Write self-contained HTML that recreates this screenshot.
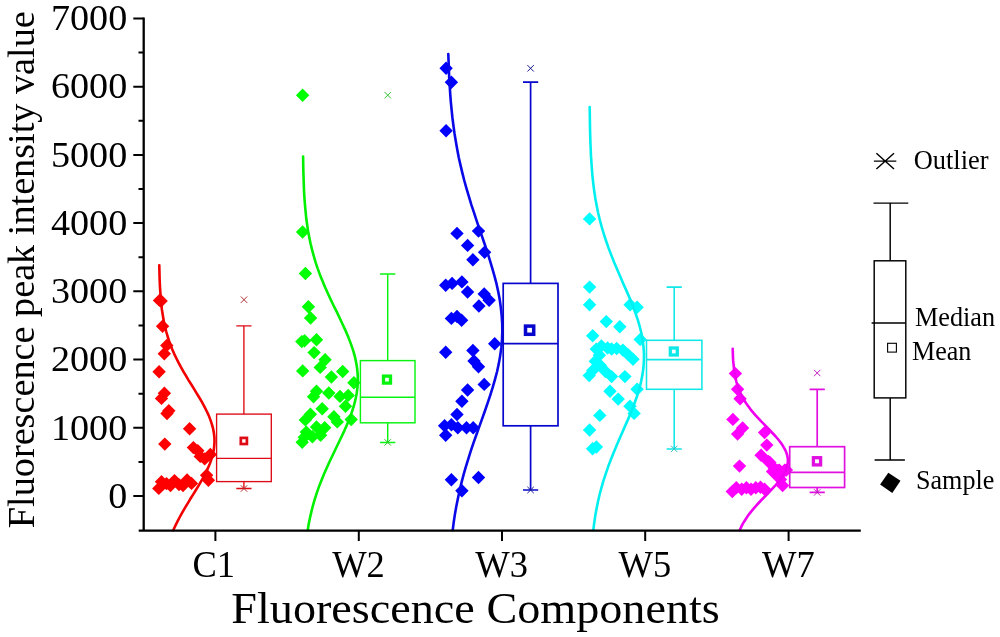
<!DOCTYPE html>
<html lang="en"><head><meta charset="utf-8"><title>Fluorescence Components</title>
<style>html,body{margin:0;padding:0;background:#fff}body{width:1000px;height:637px;overflow:hidden}svg{display:block;will-change:transform}text{font-family:"Liberation Serif","Times New Roman",serif;fill:#000}</style>
</head><body>
<svg width="1000" height="637" viewBox="0 0 1000 637">
<rect width="1000" height="637" fill="#fff"/>
<g id="C1">
<path d="M159.5 293.7l6.7 6.7l-6.7 6.7l-6.7 -6.7zM161.1 294.3l6.7 6.7l-6.7 6.7l-6.7 -6.7zM162.6 319.6l6.7 6.7l-6.7 6.7l-6.7 -6.7zM166.8 338.7l6.7 6.7l-6.7 6.7l-6.7 -6.7zM164.3 347.1l6.7 6.7l-6.7 6.7l-6.7 -6.7zM159.1 365.1l6.7 6.7l-6.7 6.7l-6.7 -6.7zM164.4 386.6l6.7 6.7l-6.7 6.7l-6.7 -6.7zM161.5 391.7l6.7 6.7l-6.7 6.7l-6.7 -6.7zM168.8 404.0l6.7 6.7l-6.7 6.7l-6.7 -6.7zM167.0 406.8l6.7 6.7l-6.7 6.7l-6.7 -6.7zM189.6 422.1l6.7 6.7l-6.7 6.7l-6.7 -6.7zM164.8 437.4l6.7 6.7l-6.7 6.7l-6.7 -6.7zM193.4 440.9l6.7 6.7l-6.7 6.7l-6.7 -6.7zM197.8 444.1l6.7 6.7l-6.7 6.7l-6.7 -6.7zM200.3 449.7l6.7 6.7l-6.7 6.7l-6.7 -6.7zM204.7 452.2l6.7 6.7l-6.7 6.7l-6.7 -6.7zM210.3 447.8l6.7 6.7l-6.7 6.7l-6.7 -6.7zM206.6 468.6l6.7 6.7l-6.7 6.7l-6.7 -6.7zM208.4 473.6l6.7 6.7l-6.7 6.7l-6.7 -6.7zM158.8 481.7l6.7 6.7l-6.7 6.7l-6.7 -6.7zM161.5 475.1l6.7 6.7l-6.7 6.7l-6.7 -6.7zM166.5 476.9l6.7 6.7l-6.7 6.7l-6.7 -6.7zM170.5 478.8l6.7 6.7l-6.7 6.7l-6.7 -6.7zM174.5 473.9l6.7 6.7l-6.7 6.7l-6.7 -6.7zM179.0 477.9l6.7 6.7l-6.7 6.7l-6.7 -6.7zM183.0 478.9l6.7 6.7l-6.7 6.7l-6.7 -6.7zM187.1 473.3l6.7 6.7l-6.7 6.7l-6.7 -6.7zM191.5 476.7l6.7 6.7l-6.7 6.7l-6.7 -6.7z" fill="#ff0000"/>
<path d="M159.3 265.3 L159.4 269.7 L159.5 274.1 L159.6 278.5 L159.8 283.0 L160.0 287.4 L160.3 291.8 L160.6 296.2 L160.9 300.6 L161.4 305.0 L161.9 309.5 L162.6 313.9 L163.3 318.3 L164.1 322.7 L165.1 327.1 L166.2 331.5 L167.5 336.0 L168.9 340.4 L170.5 344.8 L172.2 349.2 L174.1 353.6 L176.2 358.0 L178.4 362.4 L180.8 366.9 L183.3 371.3 L185.9 375.7 L188.5 380.1 L191.3 384.5 L194.0 388.9 L196.7 393.4 L199.4 397.8 L202.0 402.2 L204.4 406.6 L206.6 411.0 L208.7 415.4 L210.4 419.9 L211.9 424.3 L213.1 428.7 L213.9 433.1 L214.4 437.5 L214.5 441.9 L214.2 446.3 L213.6 450.8 L212.6 455.2 L211.3 459.6 L209.7 464.0 L207.8 468.4 L205.7 472.8 L203.4 477.3 L200.9 481.7 L198.3 486.1 L195.6 490.5 L192.9 494.9 L190.1 499.3 L187.4 503.8 L184.8 508.2 L182.2 512.6 L179.8 517.0 L177.5 521.4 L175.3 525.8 L173.3 530.2" fill="none" stroke="#f20000" stroke-width="2.6" stroke-linejoin="round" stroke-linecap="round"/>
<g fill="none" stroke="#de0a14" stroke-width="1.35">
<rect x="216.6" y="414.1" width="54.7" height="67.5"/>
<path d="M216.6 458.4H271.3M243.9 414.1V325.9M236.3 325.9h15.2M243.9 481.6V488.5M236.3 488.5h15.2"/>
<rect x="240.8" y="437.9" width="6.1" height="6.1" stroke-width="2.7"/>
</g>
<path d="M240.8 296.5l6.4 6.4M240.8 302.9l6.4 -6.4M240.8 485.3l6.4 6.4M240.8 491.7l6.4 -6.4" fill="none" stroke="#b03030" stroke-width="1"/>
</g>
<g id="W2">
<path d="M302.6 88.5l6.7 6.7l-6.7 6.7l-6.7 -6.7zM302.6 225.3l6.7 6.7l-6.7 6.7l-6.7 -6.7zM305.4 266.8l6.7 6.7l-6.7 6.7l-6.7 -6.7zM308.4 300.0l6.7 6.7l-6.7 6.7l-6.7 -6.7zM310.6 311.3l6.7 6.7l-6.7 6.7l-6.7 -6.7zM301.8 334.9l6.7 6.7l-6.7 6.7l-6.7 -6.7zM304.6 334.1l6.7 6.7l-6.7 6.7l-6.7 -6.7zM316.5 333.0l6.7 6.7l-6.7 6.7l-6.7 -6.7zM314.1 345.9l6.7 6.7l-6.7 6.7l-6.7 -6.7zM325.1 353.0l6.7 6.7l-6.7 6.7l-6.7 -6.7zM320.2 360.7l6.7 6.7l-6.7 6.7l-6.7 -6.7zM302.7 364.2l6.7 6.7l-6.7 6.7l-6.7 -6.7zM342.7 364.8l6.7 6.7l-6.7 6.7l-6.7 -6.7zM331.4 370.3l6.7 6.7l-6.7 6.7l-6.7 -6.7zM353.9 376.1l6.7 6.7l-6.7 6.7l-6.7 -6.7zM316.5 384.6l6.7 6.7l-6.7 6.7l-6.7 -6.7zM328.8 386.3l6.7 6.7l-6.7 6.7l-6.7 -6.7zM313.5 390.1l6.7 6.7l-6.7 6.7l-6.7 -6.7zM340.0 389.7l6.7 6.7l-6.7 6.7l-6.7 -6.7zM348.2 388.7l6.7 6.7l-6.7 6.7l-6.7 -6.7zM345.5 399.5l6.7 6.7l-6.7 6.7l-6.7 -6.7zM322.2 402.0l6.7 6.7l-6.7 6.7l-6.7 -6.7zM310.4 407.5l6.7 6.7l-6.7 6.7l-6.7 -6.7zM333.9 410.1l6.7 6.7l-6.7 6.7l-6.7 -6.7zM305.3 413.2l6.7 6.7l-6.7 6.7l-6.7 -6.7zM351.2 412.8l6.7 6.7l-6.7 6.7l-6.7 -6.7zM337.3 415.2l6.7 6.7l-6.7 6.7l-6.7 -6.7zM316.5 420.3l6.7 6.7l-6.7 6.7l-6.7 -6.7zM324.7 421.0l6.7 6.7l-6.7 6.7l-6.7 -6.7zM306.3 425.4l6.7 6.7l-6.7 6.7l-6.7 -6.7zM320.6 428.5l6.7 6.7l-6.7 6.7l-6.7 -6.7zM312.4 430.1l6.7 6.7l-6.7 6.7l-6.7 -6.7zM304.3 430.5l6.7 6.7l-6.7 6.7l-6.7 -6.7zM302.2 435.6l6.7 6.7l-6.7 6.7l-6.7 -6.7z" fill="#00ff00"/>
<path d="M303.1 156.5 L303.2 162.7 L303.3 169.0 L303.5 175.2 L303.7 181.4 L303.9 187.6 L304.2 193.9 L304.6 200.1 L305.1 206.3 L305.7 212.6 L306.3 218.8 L307.2 225.0 L308.1 231.2 L309.3 237.5 L310.6 243.7 L312.1 249.9 L313.8 256.2 L315.6 262.4 L317.7 268.6 L320.0 274.9 L322.5 281.1 L325.1 287.3 L327.9 293.5 L330.8 299.8 L333.8 306.0 L336.9 312.2 L339.9 318.5 L342.8 324.7 L345.7 330.9 L348.3 337.1 L350.7 343.4 L352.9 349.6 L354.7 355.8 L356.1 362.1 L357.1 368.3 L357.7 374.5 L357.8 380.7 L357.5 387.0 L356.7 393.2 L355.5 399.4 L353.9 405.7 L351.9 411.9 L349.7 418.1 L347.1 424.4 L344.4 430.6 L341.5 436.8 L338.5 443.0 L335.5 449.3 L332.5 455.5 L329.5 461.7 L326.7 468.0 L323.9 474.2 L321.4 480.4 L319.0 486.6 L316.8 492.9 L314.8 499.1 L313.0 505.3 L311.4 511.6 L310.0 517.8 L308.7 524.0 L307.7 530.2" fill="none" stroke="#00f000" stroke-width="2.6" stroke-linejoin="round" stroke-linecap="round"/>
<g fill="none" stroke="#08f410" stroke-width="1.45">
<rect x="360.4" y="360.6" width="54.6" height="62.2"/>
<path d="M360.4 397.2H415.0M387.7 360.6V273.9M380.1 273.9h15.2M387.7 422.8V442.4M380.1 442.4h15.2"/>
<rect x="383.5" y="376.1" width="7.0" height="7.0" stroke-width="3.3"/>
</g>
<path d="M384.5 92.0l6.4 6.4M384.5 98.4l6.4 -6.4M384.5 439.2l6.4 6.4M384.5 445.6l6.4 -6.4" fill="none" stroke="#30c030" stroke-width="1"/>
</g>
<g id="W3">
<path d="M446.1 61.6l6.7 6.7l-6.7 6.7l-6.7 -6.7zM451.4 75.5l6.7 6.7l-6.7 6.7l-6.7 -6.7zM446.1 124.1l6.7 6.7l-6.7 6.7l-6.7 -6.7zM478.5 224.4l6.7 6.7l-6.7 6.7l-6.7 -6.7zM457.0 226.7l6.7 6.7l-6.7 6.7l-6.7 -6.7zM467.6 238.7l6.7 6.7l-6.7 6.7l-6.7 -6.7zM484.6 245.5l6.7 6.7l-6.7 6.7l-6.7 -6.7zM472.9 253.1l6.7 6.7l-6.7 6.7l-6.7 -6.7zM445.7 278.6l6.7 6.7l-6.7 6.7l-6.7 -6.7zM452.1 276.7l6.7 6.7l-6.7 6.7l-6.7 -6.7zM461.9 275.2l6.7 6.7l-6.7 6.7l-6.7 -6.7zM467.6 285.3l6.7 6.7l-6.7 6.7l-6.7 -6.7zM484.2 287.2l6.7 6.7l-6.7 6.7l-6.7 -6.7zM489.1 293.6l6.7 6.7l-6.7 6.7l-6.7 -6.7zM478.9 299.3l6.7 6.7l-6.7 6.7l-6.7 -6.7zM451.4 311.7l6.7 6.7l-6.7 6.7l-6.7 -6.7zM457.0 309.8l6.7 6.7l-6.7 6.7l-6.7 -6.7zM461.6 313.6l6.7 6.7l-6.7 6.7l-6.7 -6.7zM494.7 337.0l6.7 6.7l-6.7 6.7l-6.7 -6.7zM445.7 345.6l6.7 6.7l-6.7 6.7l-6.7 -6.7zM472.9 343.8l6.7 6.7l-6.7 6.7l-6.7 -6.7zM474.0 354.3l6.7 6.7l-6.7 6.7l-6.7 -6.7zM478.5 360.0l6.7 6.7l-6.7 6.7l-6.7 -6.7zM484.2 377.7l6.7 6.7l-6.7 6.7l-6.7 -6.7zM467.6 383.3l6.7 6.7l-6.7 6.7l-6.7 -6.7zM461.9 394.6l6.7 6.7l-6.7 6.7l-6.7 -6.7zM457.0 407.8l6.7 6.7l-6.7 6.7l-6.7 -6.7zM444.6 419.1l6.7 6.7l-6.7 6.7l-6.7 -6.7zM451.4 418.0l6.7 6.7l-6.7 6.7l-6.7 -6.7zM457.8 421.0l6.7 6.7l-6.7 6.7l-6.7 -6.7zM466.5 421.0l6.7 6.7l-6.7 6.7l-6.7 -6.7zM473.2 421.0l6.7 6.7l-6.7 6.7l-6.7 -6.7zM445.7 428.6l6.7 6.7l-6.7 6.7l-6.7 -6.7zM451.4 473.0l6.7 6.7l-6.7 6.7l-6.7 -6.7zM478.5 470.8l6.7 6.7l-6.7 6.7l-6.7 -6.7zM461.9 484.0l6.7 6.7l-6.7 6.7l-6.7 -6.7z" fill="#0000ff"/>
<path d="M448.3 54.0 L448.6 61.9 L448.9 69.9 L449.2 77.8 L449.7 85.7 L450.2 93.7 L450.8 101.6 L451.6 109.6 L452.4 117.5 L453.4 125.4 L454.5 133.4 L455.8 141.3 L457.2 149.2 L458.7 157.2 L460.5 165.1 L462.4 173.1 L464.4 181.0 L466.6 188.9 L469.0 196.9 L471.4 204.8 L474.0 212.7 L476.6 220.7 L479.3 228.6 L482.1 236.6 L484.8 244.5 L487.4 252.4 L489.9 260.4 L492.3 268.3 L494.5 276.2 L496.6 284.2 L498.3 292.1 L499.8 300.1 L500.9 308.0 L501.7 315.9 L502.2 323.9 L502.3 331.8 L502.0 339.7 L501.3 347.7 L500.2 355.6 L498.8 363.6 L497.1 371.5 L495.0 379.4 L492.7 387.4 L490.2 395.3 L487.6 403.2 L484.8 411.2 L482.0 419.1 L479.1 427.1 L476.3 435.0 L473.5 442.9 L470.8 450.9 L468.3 458.8 L465.9 466.7 L463.6 474.7 L461.5 482.6 L459.6 490.6 L457.9 498.5 L456.3 506.4 L454.9 514.4 L453.7 522.3 L452.7 530.2" fill="none" stroke="#0808e8" stroke-width="2.6" stroke-linejoin="round" stroke-linecap="round"/>
<g fill="none" stroke="#0606cc" stroke-width="1.7">
<rect x="503.2" y="283.4" width="54.8" height="142.4"/>
<path d="M503.2 343.7H558.0M530.6 283.4V82.2M523.0 82.2h15.2M530.6 425.8V490.0M523.0 490.0h15.2"/>
<rect x="525.5" y="326.1" width="8.2" height="8.2" stroke-width="3.5"/>
</g>
<path d="M527.4 65.1l6.4 6.4M527.4 71.5l6.4 -6.4M527.4 486.8l6.4 6.4M527.4 493.2l6.4 -6.4" fill="none" stroke="#181890" stroke-width="1"/>
</g>
<g id="W5">
<path d="M589.6 212.2l6.7 6.7l-6.7 6.7l-6.7 -6.7zM589.6 280.4l6.7 6.7l-6.7 6.7l-6.7 -6.7zM589.6 298.0l6.7 6.7l-6.7 6.7l-6.7 -6.7zM630.1 298.0l6.7 6.7l-6.7 6.7l-6.7 -6.7zM637.1 300.6l6.7 6.7l-6.7 6.7l-6.7 -6.7zM606.3 314.9l6.7 6.7l-6.7 6.7l-6.7 -6.7zM619.8 320.1l6.7 6.7l-6.7 6.7l-6.7 -6.7zM592.7 329.1l6.7 6.7l-6.7 6.7l-6.7 -6.7zM640.2 332.8l6.7 6.7l-6.7 6.7l-6.7 -6.7zM596.3 342.4l6.7 6.7l-6.7 6.7l-6.7 -6.7zM601.4 339.3l6.7 6.7l-6.7 6.7l-6.7 -6.7zM607.6 341.3l6.7 6.7l-6.7 6.7l-6.7 -6.7zM611.6 342.3l6.7 6.7l-6.7 6.7l-6.7 -6.7zM616.7 341.8l6.7 6.7l-6.7 6.7l-6.7 -6.7zM622.9 343.4l6.7 6.7l-6.7 6.7l-6.7 -6.7zM628.0 347.9l6.7 6.7l-6.7 6.7l-6.7 -6.7zM633.0 352.6l6.7 6.7l-6.7 6.7l-6.7 -6.7zM599.4 348.5l6.7 6.7l-6.7 6.7l-6.7 -6.7zM595.3 354.6l6.7 6.7l-6.7 6.7l-6.7 -6.7zM600.4 358.7l6.7 6.7l-6.7 6.7l-6.7 -6.7zM592.7 363.8l6.7 6.7l-6.7 6.7l-6.7 -6.7zM589.2 368.9l6.7 6.7l-6.7 6.7l-6.7 -6.7zM605.5 364.8l6.7 6.7l-6.7 6.7l-6.7 -6.7zM611.6 369.9l6.7 6.7l-6.7 6.7l-6.7 -6.7zM624.9 369.9l6.7 6.7l-6.7 6.7l-6.7 -6.7zM637.1 382.6l6.7 6.7l-6.7 6.7l-6.7 -6.7zM610.0 384.6l6.7 6.7l-6.7 6.7l-6.7 -6.7zM618.2 392.4l6.7 6.7l-6.7 6.7l-6.7 -6.7zM630.0 399.5l6.7 6.7l-6.7 6.7l-6.7 -6.7zM634.1 406.7l6.7 6.7l-6.7 6.7l-6.7 -6.7zM599.8 408.7l6.7 6.7l-6.7 6.7l-6.7 -6.7zM589.6 423.3l6.7 6.7l-6.7 6.7l-6.7 -6.7zM592.6 442.1l6.7 6.7l-6.7 6.7l-6.7 -6.7zM596.4 440.3l6.7 6.7l-6.7 6.7l-6.7 -6.7z" fill="#00ffff"/>
<path d="M589.7 107.0 L589.8 114.1 L589.9 121.1 L590.0 128.2 L590.2 135.2 L590.4 142.3 L590.7 149.3 L591.0 156.4 L591.5 163.4 L592.0 170.5 L592.6 177.5 L593.4 184.6 L594.3 191.6 L595.4 198.7 L596.7 205.8 L598.1 212.8 L599.8 219.9 L601.7 226.9 L603.8 234.0 L606.1 241.0 L608.6 248.1 L611.3 255.1 L614.1 262.2 L617.1 269.2 L620.1 276.3 L623.2 283.4 L626.3 290.4 L629.4 297.5 L632.2 304.5 L634.9 311.6 L637.4 318.6 L639.5 325.7 L641.3 332.7 L642.6 339.8 L643.5 346.8 L644.0 353.9 L643.9 360.9 L643.4 368.0 L642.4 375.1 L641.0 382.1 L639.2 389.2 L637.0 396.2 L634.5 403.3 L631.8 410.3 L628.9 417.4 L625.8 424.4 L622.7 431.5 L619.6 438.5 L616.6 445.6 L613.6 452.7 L610.8 459.7 L608.1 466.8 L605.7 473.8 L603.4 480.9 L601.4 487.9 L599.5 495.0 L597.9 502.0 L596.5 509.1 L595.2 516.1 L594.2 523.2 L593.3 530.2" fill="none" stroke="#00f0f0" stroke-width="2.6" stroke-linejoin="round" stroke-linecap="round"/>
<g fill="none" stroke="#10e8e8" stroke-width="1.55">
<rect x="646.5" y="340.3" width="55.4" height="49.0"/>
<path d="M646.5 359.6H701.9M674.2 340.3V287.1M666.6 287.1h15.2M674.2 389.3V448.9M666.6 448.9h15.2"/>
<rect x="670.3" y="348.0" width="7.0" height="7.0" stroke-width="3.3"/>
</g>
<path d="M671.0 445.7l6.4 6.4M671.0 452.1l6.4 -6.4" fill="none" stroke="#30c0c0" stroke-width="1"/>
</g>
<g id="W7">
<path d="M735.4 366.9l6.7 6.7l-6.7 6.7l-6.7 -6.7zM737.6 382.6l6.7 6.7l-6.7 6.7l-6.7 -6.7zM740.1 392.0l6.7 6.7l-6.7 6.7l-6.7 -6.7zM732.9 412.7l6.7 6.7l-6.7 6.7l-6.7 -6.7zM742.6 421.2l6.7 6.7l-6.7 6.7l-6.7 -6.7zM737.6 427.4l6.7 6.7l-6.7 6.7l-6.7 -6.7zM764.6 425.9l6.7 6.7l-6.7 6.7l-6.7 -6.7zM766.8 438.4l6.7 6.7l-6.7 6.7l-6.7 -6.7zM761.1 448.5l6.7 6.7l-6.7 6.7l-6.7 -6.7zM769.9 455.7l6.7 6.7l-6.7 6.7l-6.7 -6.7zM739.5 459.4l6.7 6.7l-6.7 6.7l-6.7 -6.7zM774.6 461.9l6.7 6.7l-6.7 6.7l-6.7 -6.7zM779.3 463.5l6.7 6.7l-6.7 6.7l-6.7 -6.7zM784.7 463.5l6.7 6.7l-6.7 6.7l-6.7 -6.7zM774.6 466.7l6.7 6.7l-6.7 6.7l-6.7 -6.7zM772.6 464.8l6.7 6.7l-6.7 6.7l-6.7 -6.7zM777.8 463.8l6.7 6.7l-6.7 6.7l-6.7 -6.7zM786.4 463.3l6.7 6.7l-6.7 6.7l-6.7 -6.7zM775.3 467.5l6.7 6.7l-6.7 6.7l-6.7 -6.7zM768.3 454.8l6.7 6.7l-6.7 6.7l-6.7 -6.7zM780.5 472.7l6.7 6.7l-6.7 6.7l-6.7 -6.7zM782.6 478.8l6.7 6.7l-6.7 6.7l-6.7 -6.7zM732.3 484.8l6.7 6.7l-6.7 6.7l-6.7 -6.7zM736.3 481.1l6.7 6.7l-6.7 6.7l-6.7 -6.7zM741.7 482.6l6.7 6.7l-6.7 6.7l-6.7 -6.7zM746.4 481.1l6.7 6.7l-6.7 6.7l-6.7 -6.7zM751.0 482.6l6.7 6.7l-6.7 6.7l-6.7 -6.7zM755.8 481.1l6.7 6.7l-6.7 6.7l-6.7 -6.7zM760.5 480.5l6.7 6.7l-6.7 6.7l-6.7 -6.7zM764.6 482.6l6.7 6.7l-6.7 6.7l-6.7 -6.7z" fill="#ff00ff"/>
<path d="M732.7 348.8 L732.8 351.8 L732.9 354.8 L733.0 357.9 L733.2 360.9 L733.5 363.9 L733.8 366.9 L734.1 370.0 L734.6 373.0 L735.1 376.0 L735.7 379.0 L736.5 382.1 L737.4 385.1 L738.4 388.1 L739.6 391.1 L740.9 394.2 L742.5 397.2 L744.2 400.2 L746.1 403.2 L748.3 406.3 L750.5 409.3 L753.0 412.3 L755.6 415.3 L758.4 418.4 L761.2 421.4 L764.2 424.4 L767.1 427.4 L770.1 430.5 L772.9 433.5 L775.7 436.5 L778.3 439.5 L780.6 442.5 L782.7 445.6 L784.5 448.6 L786.0 451.6 L787.0 454.6 L787.7 457.7 L787.9 460.7 L787.7 463.7 L787.1 466.7 L786.1 469.8 L784.6 472.8 L782.9 475.8 L780.8 478.8 L778.4 481.9 L775.9 484.9 L773.1 487.9 L770.3 490.9 L767.3 494.0 L764.4 497.0 L761.4 500.0 L758.6 503.0 L755.8 506.1 L753.2 509.1 L750.7 512.1 L748.4 515.1 L746.3 518.2 L744.4 521.2 L742.6 524.2 L741.1 527.2 L739.7 530.2" fill="none" stroke="#f000f0" stroke-width="2.6" stroke-linejoin="round" stroke-linecap="round"/>
<g fill="none" stroke="#e010e0" stroke-width="1.7">
<rect x="789.7" y="446.7" width="54.9" height="40.8"/>
<path d="M789.7 472.4H844.6M817.2 446.7V389.3M809.6 389.3h15.2M817.2 487.5V492.4M809.6 492.4h15.2"/>
<rect x="813.4" y="457.7" width="7.2" height="7.2" stroke-width="3.3"/>
</g>
<path d="M814.0 369.8l6.4 6.4M814.0 376.2l6.4 -6.4M814.0 489.2l6.4 6.4M814.0 495.6l6.4 -6.4" fill="none" stroke="#c020c0" stroke-width="1"/>
</g>
<g fill="none" stroke="#000">
<path stroke-width="2.3" d="M143.7 17.5V531.8000000000001M138.7 530.7H860.8"/>
<path stroke-width="2" d="M133.3 496.0H143.7M133.3 427.8H143.7M133.3 359.6H143.7M133.3 291.3H143.7M133.3 223.1H143.7M133.3 154.9H143.7M133.3 86.7H143.7M133.3 18.5H143.7M138.5 461.9H143.7M138.5 393.7H143.7M138.5 325.4H143.7M138.5 257.2H143.7M138.5 189.0H143.7M138.5 120.8H143.7M138.5 52.6H143.7M215.4 530.7V540.9M358.8 530.7V540.9M502.0 530.7V540.9M645.2 530.7V540.9M788.6 530.7V540.9"/>
</g>
<g font-size="36.8" text-anchor="end">
<text x="127.2" y="507.7" textLength="19.0" lengthAdjust="spacingAndGlyphs">0</text>
<text x="127.2" y="439.5" textLength="76.2" lengthAdjust="spacingAndGlyphs">1000</text>
<text x="127.2" y="371.3" textLength="76.2" lengthAdjust="spacingAndGlyphs">2000</text>
<text x="127.2" y="303.0" textLength="76.2" lengthAdjust="spacingAndGlyphs">3000</text>
<text x="127.2" y="234.8" textLength="76.2" lengthAdjust="spacingAndGlyphs">4000</text>
<text x="127.2" y="166.6" textLength="76.2" lengthAdjust="spacingAndGlyphs">5000</text>
<text x="127.2" y="98.4" textLength="76.2" lengthAdjust="spacingAndGlyphs">6000</text>
<text x="127.2" y="30.2" textLength="76.2" lengthAdjust="spacingAndGlyphs">7000</text>
</g>
<g font-size="38.8" text-anchor="middle">
<text x="213.7" y="576.5" textLength="42.6" lengthAdjust="spacingAndGlyphs">C1</text>
<text x="358.5" y="576.5" textLength="52.7" lengthAdjust="spacingAndGlyphs">W2</text>
<text x="501.7" y="576.5" textLength="52.7" lengthAdjust="spacingAndGlyphs">W3</text>
<text x="644.9" y="576.5" textLength="52.7" lengthAdjust="spacingAndGlyphs">W5</text>
<text x="788.3" y="576.5" textLength="52.7" lengthAdjust="spacingAndGlyphs">W7</text>
</g>
<text x="231.3" y="622.8" font-size="44.2" textLength="488.5" lengthAdjust="spacingAndGlyphs">Fluorescence Components</text>
<text transform="translate(33.5 528.2) rotate(-90)" font-size="38.3" textLength="517" lengthAdjust="spacingAndGlyphs">Fluorescence peak intensity value</text>
<g id="legend">
<g fill="none" stroke="#000" stroke-width="1.45">
<path d="M873.9 161.1h22.4M876.4 153.2l17.6 15.8M876.4 169l17.6-15.8"/>
<path d="M873.5 203.1H908.3M890.2 203.1V260.8M890.2 397.9V460M874.6 460H904.9M871.6 322.9H905.8"/>
<rect x="874.2" y="260.8" width="31.6" height="137.1"/>
<rect x="887.6" y="343.3" width="8.8" height="8.8" stroke-width="1.1"/>
</g>
<path d="M888.3 472.8L900.5 480.8L892.3 492.9L880.1 484.6z" fill="#000"/>
<g font-size="26.7">
<text x="913.7" y="169.0" textLength="74.8" lengthAdjust="spacingAndGlyphs">Outlier</text>
<text x="914.9" y="326.2" textLength="80.2" lengthAdjust="spacingAndGlyphs">Median</text>
<text x="912.0" y="360.2" textLength="59.4" lengthAdjust="spacingAndGlyphs">Mean</text>
<text x="916" y="488.6" textLength="78.3" lengthAdjust="spacingAndGlyphs">Sample</text>
</g></g>
</svg></body></html>
